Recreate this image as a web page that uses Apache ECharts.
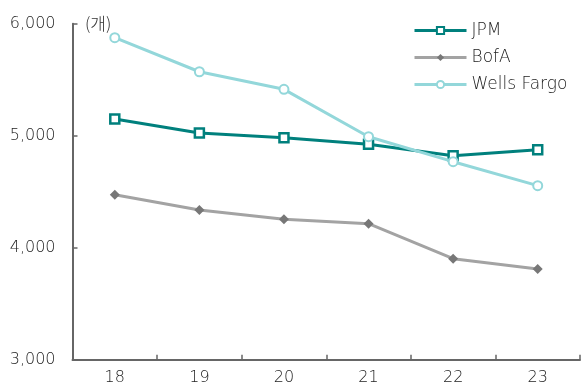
<!DOCTYPE html>
<html>
<head>
<meta charset="utf-8">
<script src="https://cdn.jsdelivr.net/npm/echarts@6/dist/echarts.min.js"></script>
<style>
html,body{margin:0;padding:0;background:#fff;}
#c{width:582px;height:388px;}
</style>
</head>
<body>
<div id="c"></div>
<script>
var categories = ['18', '19', '20', '21', '22', '23'];
var jpm = [5150, 5025, 4982, 4923, 4820, 4875];
var bofa = [4473, 4337, 4254, 4214, 3902, 3810];
var wells = [5875, 5571, 5414, 4991, 4768, 4554];
var yTicks = [3000, 4000, 5000, 6000];
var unitLabel = '(개)';

var FONT = '"DejaVu Sans", "Noto Sans CJK KR", sans-serif';
var KFONT = '"Noto Sans CJK KR", sans-serif';
var chart = echarts.init(document.getElementById('c'), null, {renderer: 'canvas'});
chart.setOption({
  animation: false,
  backgroundColor: '#fff',
  textStyle: {fontFamily: FONT},
  grid: {left: 72.5, right: 2, top: 23.7, bottom: 28.3, containLabel: false},
  legend: {
    orient: 'vertical',
    left: 408,
    top: 17,
    itemWidth: 52,
    itemHeight: 9,
    itemGap: 10,
    lineStyle: {width: 3},
    textStyle: {fontFamily: FONT, fontSize: 17, fontWeight: 200, color: '#222'},
    data: ['JPM', 'BofA', 'Wells Fargo']
  },
  graphic: [{
    type: 'text', left: 85, top: 15,
    style: {text: unitLabel, font: '300 17px ' + KFONT, fill: '#333'}
  }],
  xAxis: {
    type: 'category',
    data: categories,
    boundaryGap: true,
    axisLine: {lineStyle: {color: '#666', width: 2}},
    axisTick: {show: true, inside: true, length: 5, lineStyle: {color: '#666', width: 1.5}},
    axisLabel: {fontSize: 16, fontWeight: 200, color: '#222', margin: 10, fontFamily: FONT},
    splitLine: {show: false}
  },
  yAxis: {
    type: 'value',
    min: 3000, max: 6000, interval: 1000,
    axisLine: {show: true, lineStyle: {color: '#666', width: 2}},
    axisTick: {show: true, inside: true, length: 5, lineStyle: {color: '#666', width: 1.5}},
    axisLabel: {
      fontSize: 16, fontWeight: 200, color: '#222', margin: 17, fontFamily: FONT,
      formatter: function (v) { return yTicks.indexOf(v) >= 0 ? v.toLocaleString('en-US') : ''; }
    },
    splitLine: {show: false}
  },
  series: [
    {
      name: 'JPM', type: 'line', data: jpm,
      symbol: 'rect', symbolSize: 9, showAllSymbol: true,
      lineStyle: {color: '#00807d', width: 3},
      itemStyle: {color: '#ffffff', borderColor: '#00807d', borderWidth: 2.5},
      z: 3
    },
    {
      name: 'BofA', type: 'line', data: bofa,
      symbol: 'diamond', symbolSize: 10,
      lineStyle: {color: '#a3a3a3', width: 3},
      itemStyle: {color: '#777777', borderColor: '#777777', borderWidth: 0},
      z: 2
    },
    {
      name: 'Wells Fargo', type: 'line', data: wells,
      symbol: 'circle', symbolSize: 9,
      lineStyle: {color: '#93d7da', width: 3},
      itemStyle: {color: '#ffffff', borderColor: '#93d7da', borderWidth: 2},
      z: 4
    }
  ]
});
</script>
</body>
</html>
